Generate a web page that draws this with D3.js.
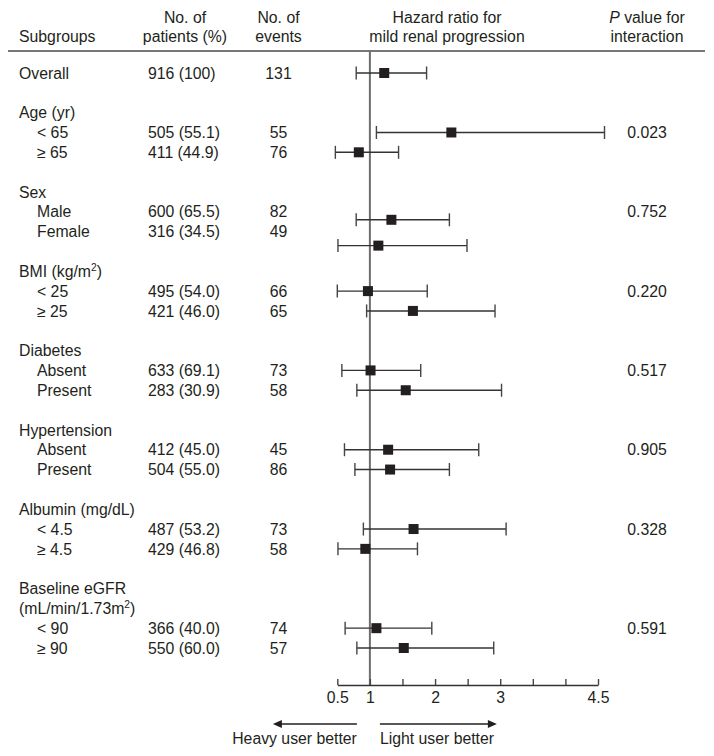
<!DOCTYPE html>
<html>
<head>
<meta charset="utf-8">
<script src="https://cdn.jsdelivr.net/npm/d3@7"></script>
<style>
  html, body { margin: 0; padding: 0; background: #fff; }
  svg { display: block; }
  text { font-family: "Liberation Sans", Arial, Helvetica, sans-serif; fill: #231f20; }
</style>
</head>
<body>
<svg id="chart" width="714" height="756"></svg>
<script>
// ---------------- data ----------------
const overallLabel = "Overall";
const groupTitles = [
  ["Age (yr)"],
  ["Sex"],
  ["BMI (kg/m^2)"],
  ["Diabetes"],
  ["Hypertension"],
  ["Albumin (mg/dL)"],
  ["Baseline eGFR", "(mL/min/1.73m^2)"]
];
const groupSizes = [2, 2, 2, 2, 2, 2, 2];
const pValues = ["0.023", "0.752", "0.220", "0.517", "0.905", "0.328", "0.591"];

const subgroups = ["Overall", "< 65", "≥ 65", "Male", "Female", "< 25", "≥ 25",
  "Absent", "Present", "Absent", "Present", "< 4.5", "≥ 4.5", "< 90", "≥ 90"];
const patients = ["916 (100)", "505 (55.1)", "411 (44.9)", "600 (65.5)", "316 (34.5)",
  "495 (54.0)", "421 (46.0)", "633 (69.1)", "283 (30.9)", "412 (45.0)", "504 (55.0)",
  "487 (53.2)", "429 (46.8)", "366 (40.0)", "550 (60.0)"];
const events = [131, 55, 76, 82, 49, 66, 65, 73, 58, 45, 86, 73, 58, 74, 57];
const hazardRatio = [1.22, 2.25, 0.83, 1.33, 1.13, 0.97, 1.66, 1.01, 1.55, 1.28, 1.31, 1.67, 0.93, 1.10, 1.52];
const ciLower =     [0.79, 1.10, 0.47, 0.79, 0.51, 0.50, 0.95, 0.57, 0.80, 0.61, 0.77, 0.90, 0.51, 0.62, 0.80];
const ciUpper =     [1.87, 4.60, 1.44, 2.22, 2.49, 1.88, 2.92, 1.78, 3.02, 2.67, 2.22, 3.09, 1.73, 1.95, 2.90];

const tickValues = [0.5, 1, 1.5, 2, 2.5, 3, 3.5, 4, 4.5];
const tickLabels = ["0.5", "1", "", "2", "", "3", "", "", "4.5"];

const headers = [
  { lines: ["Subgroups"], anchor: "start" },
  { lines: ["No. of", "patients (%)"], anchor: "middle" },
  { lines: ["No. of", "events"], anchor: "middle" },
  { lines: ["Hazard ratio for", "mild renal progression"], anchor: "middle" },
  { lines: ["P value for", "interaction"], anchor: "middle" }
];
const directionLabels = ["Heavy user better", "Light user better"];

// ---------------- layout ----------------
const svg = d3.select("#chart");
const FS = 15.8;
const colX = { label: 19, indent: 37, patients: 148, patientsHead: 185, events: 278.5, hr: 447, p: 647 };
const x = d3.scaleLinear().domain([0.5, 4.5]).range([337.3, 598]);
const y = d3.scaleLinear().domain([0, 29]).range([73, 648]);
const axisY = 685;
const ruleY = 51;
// the Sex rows' estimates sit slightly below their text rows in the original
const markShift = { 3: 8, 4: 14 };

// build the row structure
const textRows = [];
const itemRows = [];
textRows.push({ row: 0, text: overallLabel, x: colX.label });
itemRows.push(0);
let r = 2;
const pRows = [];
let item = 1;
groupTitles.forEach((titles, g) => {
  titles.forEach(t => { textRows.push({ row: r, text: t, x: colX.label }); r++; });
  pRows.push(r);
  for (let k = 0; k < groupSizes[g]; k++) {
    textRows.push({ row: r, text: subgroups[item], x: colX.indent });
    itemRows.push(r);
    item++; r++;
  }
  r++;
});

function addText(sel, str) {
  const parts = str.split("^");
  sel.text(null);
  sel.append("tspan").text(parts[0]);
  if (parts.length > 1) {
    const sup = parts[1].charAt(0);
    const rest = parts[1].slice(1);
    sel.append("tspan").attr("dy", -6).attr("font-size", FS * 0.65).text(sup);
    sel.append("tspan").attr("dy", 6).text(rest);
  }
}

// ---------------- headers ----------------
const headX = [colX.label, colX.patientsHead, colX.events, colX.hr, colX.p];
const headG = svg.append("g").attr("font-size", FS);
headers.forEach((h, i) => {
  const n = h.lines.length;
  h.lines.forEach((line, j) => {
    const t = headG.append("text")
      .attr("x", headX[i])
      .attr("y", 42 - (n - 1 - j) * 19)
      .attr("text-anchor", h.anchor)
      .attr("font-size", FS);
    if (line.startsWith("P value")) {
      t.append("tspan").attr("font-style", "italic").text("P");
      t.append("tspan").text(line.slice(1));
    } else {
      t.text(line);
    }
  });
});

svg.append("line")
  .attr("x1", 8).attr("x2", 705)
  .attr("y1", ruleY).attr("y2", ruleY)
  .attr("stroke", "#4a4a4a").attr("stroke-width", 1.5);

// ---------------- table text ----------------
const tbl = svg.append("g").attr("font-size", FS);
textRows.forEach(d => {
  const t = tbl.append("text").attr("x", d.x).attr("y", y(d.row)).attr("dy", "0.36em");
  addText(t, d.text);
});
tbl.selectAll("text.pat").data(patients).join("text")
  .attr("class", "pat")
  .attr("x", colX.patients)
  .attr("y", (d, i) => y(itemRows[i])).attr("dy", "0.36em")
  .text(d => d);
tbl.selectAll("text.ev").data(events).join("text")
  .attr("class", "ev")
  .attr("x", colX.events).attr("text-anchor", "middle")
  .attr("y", (d, i) => y(itemRows[i])).attr("dy", "0.36em")
  .text(d => d);
tbl.selectAll("text.pv").data(pValues).join("text")
  .attr("class", "pv")
  .attr("x", colX.p).attr("text-anchor", "middle")
  .attr("y", (d, i) => y(pRows[i])).attr("dy", "0.36em")
  .text(d => d);

// ---------------- forest plot ----------------
const plot = svg.append("g");
plot.append("line")
  .attr("x1", x(1)).attr("x2", x(1))
  .attr("y1", ruleY).attr("y2", axisY)
  .attr("stroke", "#6e6e6e").attr("stroke-width", 2);

const markY = i => y(itemRows[i]) + (markShift[i] || 0);
const capH = 6.5;
const est = plot.selectAll("g.est").data(hazardRatio).join("g").attr("class", "est");
est.append("line")
  .attr("x1", (d, i) => x(ciLower[i])).attr("x2", (d, i) => x(ciUpper[i]))
  .attr("y1", (d, i) => markY(i)).attr("y2", (d, i) => markY(i))
  .attr("stroke", "#333").attr("stroke-width", 1.4);
est.append("line")
  .attr("x1", (d, i) => x(ciLower[i])).attr("x2", (d, i) => x(ciLower[i]))
  .attr("y1", (d, i) => markY(i) - capH).attr("y2", (d, i) => markY(i) + capH)
  .attr("stroke", "#444").attr("stroke-width", 1.4);
est.append("line")
  .attr("x1", (d, i) => x(ciUpper[i])).attr("x2", (d, i) => x(ciUpper[i]))
  .attr("y1", (d, i) => markY(i) - capH).attr("y2", (d, i) => markY(i) + capH)
  .attr("stroke", "#444").attr("stroke-width", 1.4);
est.append("rect")
  .attr("x", d => x(d) - 5).attr("y", (d, i) => markY(i) - 5)
  .attr("width", 10).attr("height", 10)
  .attr("fill", "#231f20");

// axis
const axis = d3.axisBottom(x)
  .tickValues(tickValues)
  .tickFormat((d, i) => tickLabels[i])
  .tickSizeInner(-6).tickSizeOuter(0).tickPadding(7);
const ax = svg.append("g").attr("transform", `translate(0,${axisY})`).call(axis);
ax.select(".domain").attr("stroke", "#333").attr("stroke-width", 1.4);
ax.selectAll(".tick line").attr("stroke", "#444").attr("stroke-width", 1.4);
ax.selectAll(".tick text")
  .attr("font-size", FS)
  .attr("font-family", '"Liberation Sans", Arial, Helvetica, sans-serif')
  .attr("fill", "#231f20");

// direction arrows
const arrowY = 724;
const x1 = x(1);
const arrows = [
  { from: x1 - 13, to: x1 - 97 },
  { from: x1 + 10, to: x1 + 127 }
];
arrows.forEach(a => {
  const dir = Math.sign(a.to - a.from);
  svg.append("line")
    .attr("x1", a.from).attr("x2", a.to - dir * 6)
    .attr("y1", arrowY).attr("y2", arrowY)
    .attr("stroke", "#231f20").attr("stroke-width", 1.4);
  svg.append("path")
    .attr("d", `M${a.to},${arrowY} L${a.to - dir * 9},${arrowY - 4} L${a.to - dir * 9},${arrowY + 4} Z`)
    .attr("fill", "#231f20");
});
svg.append("text")
  .attr("x", x1 - 13).attr("y", 744).attr("text-anchor", "end")
  .attr("font-size", FS).text(directionLabels[0]);
svg.append("text")
  .attr("x", x1 + 10).attr("y", 744).attr("text-anchor", "start")
  .attr("font-size", FS).text(directionLabels[1]);
</script>
</body>
</html>
